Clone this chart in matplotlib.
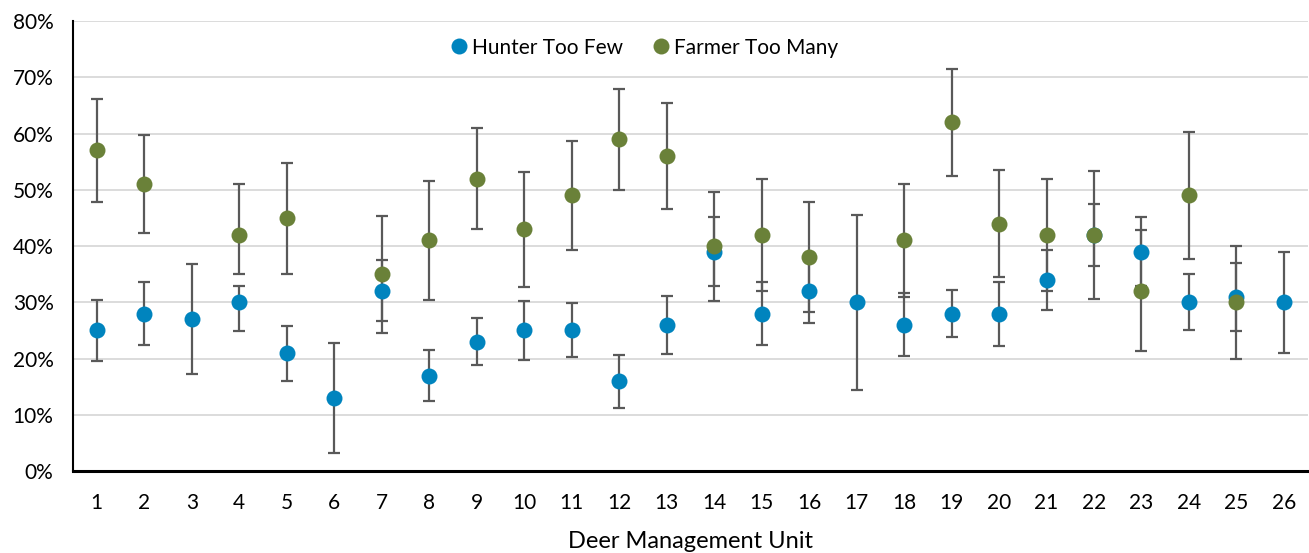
import numpy as np
import matplotlib.pyplot as plt

plt.rcParams['font.family'] = ['Lato', 'DejaVu Sans']

units = np.arange(1, 27)

# Share of respondents (%) with 90% interval ends
hunter = [25, 28, 27, 30, 21, 13, 32, 17, 23, 25, 25, 16, 26,
          39, 28, 32, 30, 26, 28, 28, 34, 42, 39, 30, 31, 30]
hunter_hi = [30.4, 33.6, 36.9, 32.9, 25.8, 22.8, 37.5, 21.6, 27.2, 30.3, 29.8, 20.7, 31.2,
             45.2, 33.7, 37.7, 45.6, 31.6, 32.2, 33.7, 39.3, 47.5, 45.1, 35.0, 37.0, 39.0]
hunter_lo = [19.6, 22.5, 17.2, 24.9, 16.1, 3.3, 24.6, 12.4, 18.8, 19.8, 20.2, 11.3, 20.8,
             32.9, 22.4, 26.3, 14.4, 20.4, 23.9, 22.3, 28.7, 36.4, 32.9, 25.1, 24.9, 21.0]

nan = np.nan
farmer = [57, 51, nan, 42, 45, nan, 35, 41, 52, 43, 49, 59, 56,
          40, 42, 38, nan, 41, 62, 44, 42, 42, 32, 49, 30, nan]
farmer_hi = [66.1, 59.7, nan, 51.0, 54.8, nan, 45.4, 51.6, 61.0, 53.2, 58.7, 68.0, 65.4,
             49.7, 52.0, 47.8, nan, 51.0, 71.5, 53.5, 52.0, 53.4, 42.8, 60.3, 40.1, nan]
farmer_lo = [47.8, 42.3, nan, 35.1, 35.1, nan, 26.6, 30.4, 43.0, 32.8, 39.3, 50.0, 46.6,
             30.3, 32.1, 28.2, nan, 30.9, 52.4, 34.5, 32.0, 30.6, 21.3, 37.7, 19.9, nan]

BLUE = '#0084BE'
GREEN = '#6A8139'
BAR = '#595959'


def draw_series(ax, x, y, hi, lo, color, label):
    y, hi, lo = (np.array(v, dtype=float) for v in (y, hi, lo))
    yerr = np.vstack([y - lo, hi - y])
    ax.errorbar(x, y, yerr=yerr, fmt='none', ecolor=BAR, elinewidth=1.6,
                capsize=4.5, capthick=1.6, zorder=2)
    return ax.plot(x, y, 'o', ms=11.5, color=color, mec='none', label=label, zorder=3)


fig = plt.figure(figsize=(13.09, 5.53), dpi=100)
ax = fig.add_axes([0.0558, 0.148, 0.9432, 0.814])

draw_series(ax, units, hunter, hunter_hi, hunter_lo, BLUE, 'Hunter Too Few')
draw_series(ax, units, farmer, farmer_hi, farmer_lo, GREEN, 'Farmer Too Many')

ax.set_xlim(0.5, 26.5)
ax.set_ylim(0, 80)
ax.set_xticks(units)
ax.set_yticks(np.arange(0, 81, 10))
ax.set_yticklabels([f'{v}%' for v in range(0, 81, 10)])
ax.tick_params(length=0, labelsize=15)
ax.tick_params(axis='y', pad=14)
ax.tick_params(axis='x', pad=16)
ax.set_xlabel('Deer Management Unit', fontsize=17, labelpad=13)

ax.grid(axis='y', color='#D9D9D9', linewidth=1.3)
ax.set_axisbelow(True)
for side in ('top', 'right'):
    ax.spines[side].set_visible(False)
ax.spines['left'].set_linewidth(1.5)
ax.spines['bottom'].set_linewidth(2.2)

ax.legend(loc='upper center', bbox_to_anchor=(0.462, 1.005), ncol=2, frameon=False,
          fontsize=15, handletextpad=0.15, columnspacing=1.3, handlelength=1.0)

fig.savefig('out.png', dpi=100)
